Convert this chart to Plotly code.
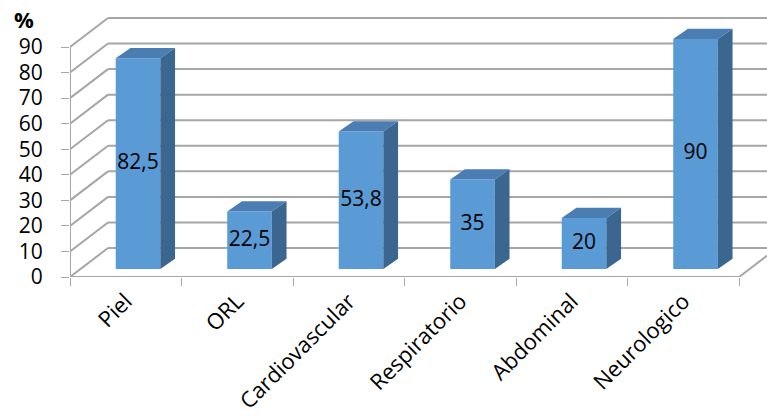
import plotly.graph_objects as go

categories = ["Piel", "ORL", "Cardiovascular", "Respiratorio", "Abdominal", "Neurologico"]
values = [82.5, 22.5, 53.8, 35, 20, 90]
value_labels = ["82,5", "22,5", "53,8", "35", "20", "90"]
y_ticks = [0, 10, 20, 30, 40, 50, 60, 70, 80, 90]

# 3D look (in axis units)
WALL_DX, WALL_DY = 0.341, 11.35
BAR_SHIFT, BAR_W, BAR_BASE = 0.11, 0.40, 3.13
SIDE_DX, SIDE_DY = 0.132, 4.0
GRID = "#A6A6A6"
FRONT = "#5B9BD5"
TOP = "#4A7EB3"
SIDE = "#3B6690"
FONT = "Open Sans"

centers = [i + 0.5 + BAR_SHIFT for i in range(len(categories))]

fig = go.Figure()
fig.add_trace(go.Bar(
    x=centers, y=values, base=BAR_BASE, width=BAR_W,
    marker=dict(color=FRONT, line=dict(width=0)), hoverinfo="skip",
))
fig.add_trace(go.Scatter(
    x=centers, y=[BAR_BASE + v / 2 for v in values], mode="text",
    text=value_labels, textfont=dict(family=FONT, size=21, color="black"),
    hoverinfo="skip",
))

shapes = []
xmax = 6.4
for v in y_ticks:
    shapes.append(dict(type="line", xref="x", yref="y", x0=WALL_DX, y0=v + WALL_DY,
                       x1=xmax, y1=v + WALL_DY, line=dict(color=GRID, width=2), layer="below"))
    shapes.append(dict(type="line", xref="x", yref="y", x0=0, y0=v,
                       x1=WALL_DX, y1=v + WALL_DY, line=dict(color=GRID, width=2), layer="below"))
shapes.append(dict(type="line", xref="x", yref="y", x0=0, y0=0, x1=0, y1=y_ticks[-1],
                   line=dict(color=GRID, width=2), layer="below"))
shapes.append(dict(type="line", xref="x", yref="y", x0=0, y0=0, x1=len(categories), y1=0,
                   line=dict(color=GRID, width=2), layer="below"))
shapes.append(dict(type="line", xref="x", yref="y", x0=len(categories), y0=0,
                   x1=len(categories) + WALL_DX, y1=WALL_DY, line=dict(color=GRID, width=2), layer="below"))

for c, v in zip(centers, values):
    x0, x1 = c - BAR_W / 2, c + BAR_W / 2
    top = BAR_BASE + v
    shapes.append(dict(type="path", xref="x", yref="y", layer="above",
                       path=f"M {x0},{top} L {x1},{top} L {x1+SIDE_DX},{top+SIDE_DY} L {x0+SIDE_DX},{top+SIDE_DY} Z",
                       fillcolor=TOP, line=dict(width=0)))
    shapes.append(dict(type="path", xref="x", yref="y", layer="above",
                       path=f"M {x1},{BAR_BASE} L {x1},{top} L {x1+SIDE_DX},{top+SIDE_DY} L {x1+SIDE_DX},{BAR_BASE+SIDE_DY} Z",
                       fillcolor=SIDE, line=dict(width=0)))

fig.update_layout(
    width=767, height=419,
    margin=dict(l=70, r=0, t=10, b=142, autoexpand=False),
    paper_bgcolor="white", plot_bgcolor="white",
    showlegend=False,
    shapes=shapes,
    font=dict(family=FONT, color="black"),
    xaxis=dict(range=[0, 6.251], tickmode="array",
               tickvals=[i + 0.5 for i in range(len(categories))], ticktext=categories,
               tickangle=-45, ticks="", showgrid=False, zeroline=False, showline=False,
               tickfont=dict(family=FONT, size=22, color="black"),
               ticklabelstandoff=6, automargin=False,
               minor=dict(tick0=0, dtick=1, ticks="outside", ticklen=8, tickcolor=GRID,
                          tickwidth=1, showgrid=False)),
    yaxis=dict(range=[0, 104.48], tickmode="array", tickvals=y_ticks,
               ticks="outside", ticklen=8, tickcolor=GRID, tickwidth=1,
               showgrid=False, zeroline=False, showline=False, automargin=False,
               tickfont=dict(family=FONT, size=21, color="black"),
               ticklabelstandoff=14),
    annotations=[dict(text="<b>%</b>", xref="paper", yref="paper",
                      x=0, y=1, xanchor="center", yanchor="middle",
                      xshift=-46, yshift=-9, showarrow=False,
                      font=dict(family=FONT, size=22, color="black"))],
)

fig.write_html("out.html")
